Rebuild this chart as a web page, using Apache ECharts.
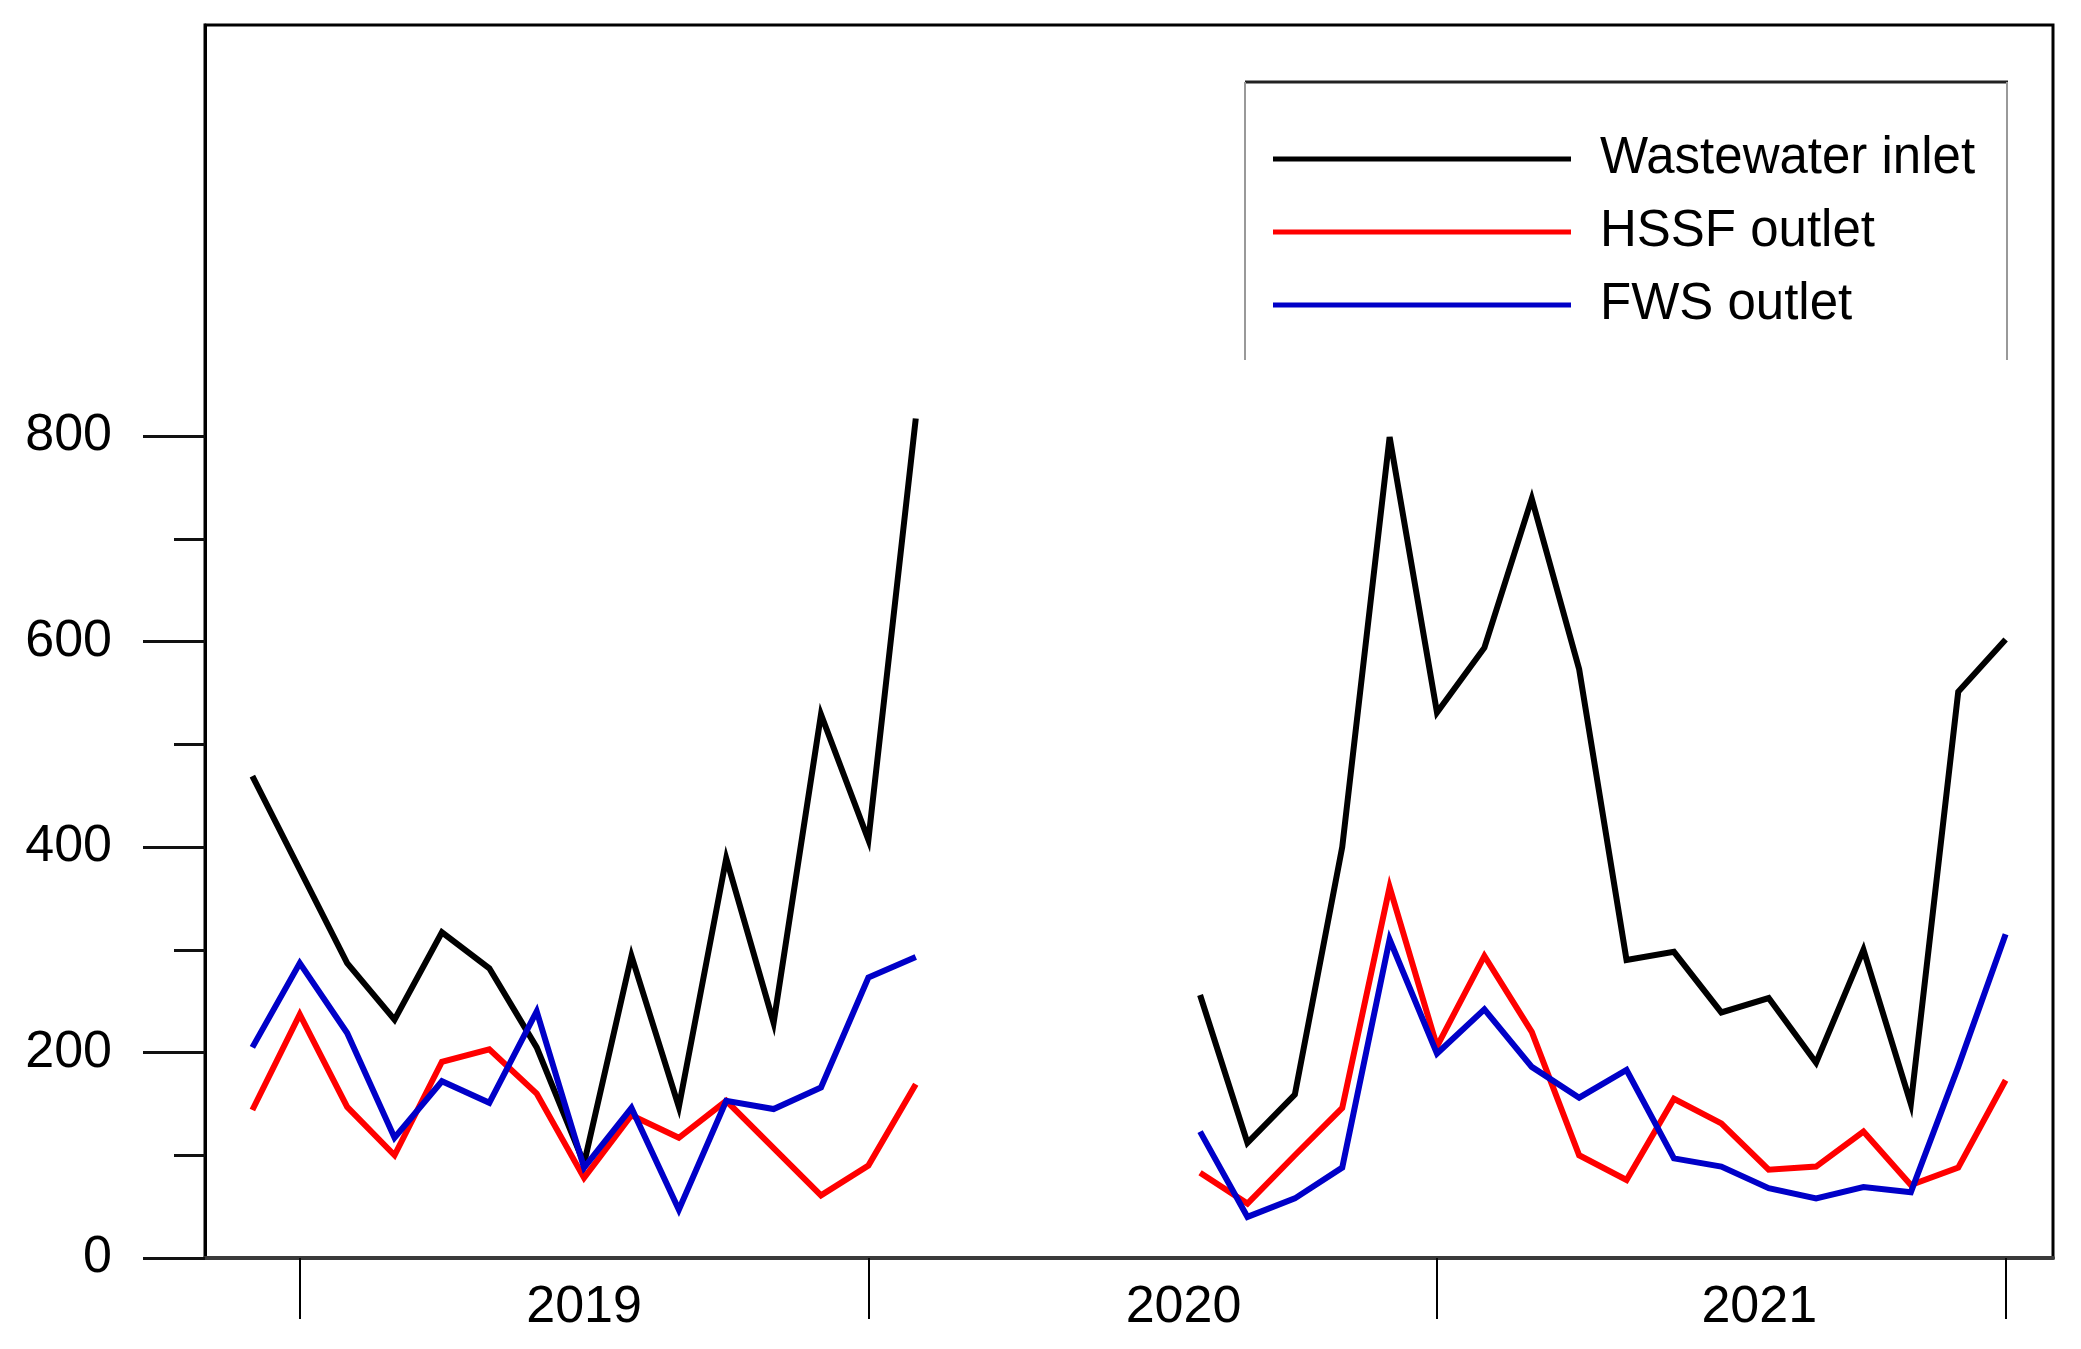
<!DOCTYPE html>
<html><head><meta charset="utf-8">
<script src="https://cdn.jsdelivr.net/npm/echarts@6/dist/echarts.min.js"></script>
<style>html,body{margin:0;padding:0;background:#fff}#c{width:2081px;height:1349px}</style>
</head><body><div id="c"></div>
<script>
// Monthly samples (index positions on the x axis)
const months = ['2018-12','2019-01','2019-02','2019-03','2019-04','2019-05','2019-06','2019-07','2019-08','2019-09','2019-10','2019-11','2019-12',
  '2020-01','2020-02','2020-03','2020-04','2020-05','2020-06','2020-07','2020-08','2020-09','2020-10','2020-11','2020-12',
  '2021-01','2021-02','2021-03','2021-04','2021-05','2021-06','2021-07','2021-08','2021-09','2021-10','2021-11','2021-12','2022-01'];
const seriesNames = ['Wastewater inlet', 'HSSF outlet', 'FWS outlet'];
const inlet = [469, 378, 287, 232, 317, 282, 205, 92, 294, 147, 389, 229, 529, 407, 817,
  null, null, null, null, null,
  256, 112, 159, 400, 799, 531, 594, 739, 573, 290, 298, 239, 253, 190, 300, 150, 551, 602];
const hssf = [144, 237, 147, 100, 191, 203, 160, 78, 139, 117, 153, 107, 61, 90, 169,
  null, null, null, null, null,
  83, 53, 100, 146, 361, 206, 294, 220, 100, 76, 155, 131, 86, 89, 123, 71, 88, 173];
const fws = [205, 287, 219, 117, 172, 151, 240, 88, 146, 47, 153, 145, 166, 273, 293,
  null, null, null, null, null,
  123, 40, 58, 88, 310, 199, 242, 186, 156, 183, 97, 89, 68, 58, 69, 64, 186, 315];
const yMajorTicks = [0, 200, 400, 600, 800];
const yMinorTicks = [100, 300, 500, 700];
const yearLabels = ['2019', '2020', '2021'];
const yearLabelPos = [7, 19.65, 31.8];

const yearTicks = months.map((m, i) => m.endsWith('-01') ? i : null).filter(v => v !== null);
const toData = arr => months.map((m, i) => [i, arr[i] == null ? '-' : arr[i]]);

const FONT = "'Liberation Sans', Arial, sans-serif";
const chart = echarts.init(document.getElementById('c'), null, {renderer: 'canvas'});
const lineSeries = (name, arr, color) => ({
  name, type: 'line', data: toData(arr), symbol: 'none', showSymbol: false,
  connectNulls: false, animation: false,
  lineStyle: {color, width: 6, join: 'miter', miterLimit: 6},
  itemStyle: {color}
});

chart.setOption({
  animation: false,
  backgroundColor: '#fff',
  grid: {left: 205, right: 28, top: 25, bottom: 91, show: true, borderColor: '#000', borderWidth: 3,
    backgroundColor: 'transparent', containLabel: false, outerBoundsMode: 'none'},
  legend: {
    orient: 'vertical', left: 1273, top: 133, padding: 0,
    icon: 'rect', itemWidth: 298, itemHeight: 5, itemGap: 21,
    data: seriesNames,
    textStyle: {fontFamily: FONT, fontSize: 51, color: '#000', lineHeight: 52, padding: [0, 0, 0, 24]},
    selectedMode: false
  },
  xAxis: {
    type: 'value', min: -1, max: 38,
    axisLine: {show: true, onZero: false, lineStyle: {color: '#3a3a3a', width: 4}},
    axisTick: {show: true, customValues: yearTicks, length: 61, lineStyle: {color: '#000', width: 2}},
    axisLabel: {show: true, customValues: yearLabelPos, margin: 24, fontSize: 52, fontFamily: FONT, color: '#000',
      formatter: v => { const i = yearLabelPos.findIndex(p => Math.abs(p - v) < 0.01); return i >= 0 ? yearLabels[i] : ''; }},
    splitLine: {show: false}
  },
  yAxis: [{
    type: 'value', min: 0, max: 1200, position: 'left',
    axisLine: {show: true, onZero: false, lineStyle: {color: '#000', width: 3}},
    axisTick: {show: true, customValues: yMajorTicks, length: 62, lineStyle: {color: '#111', width: 3}},
    axisLabel: {show: true, customValues: yMajorTicks, margin: 93, fontSize: 52, fontFamily: FONT, color: '#000'},
    splitLine: {show: false}
  }, {
    type: 'value', min: 0, max: 1200, position: 'left', offset: 0,
    axisLine: {show: false, onZero: false},
    axisTick: {show: true, customValues: yMinorTicks, length: 31, lineStyle: {color: '#111', width: 3}},
    axisLabel: {show: false},
    splitLine: {show: false}
  }],
  graphic: [
    {type: 'line', shape: {x1: 1245, y1: 82, x2: 2008, y2: 82}, style: {stroke: '#222', lineWidth: 3}, z: 10},
    {type: 'line', shape: {x1: 1245, y1: 82, x2: 1245, y2: 360}, style: {stroke: '#999', lineWidth: 2}, z: 10},
    {type: 'line', shape: {x1: 2007, y1: 82, x2: 2007, y2: 360}, style: {stroke: '#999', lineWidth: 2}, z: 10}
  ],
  series: [
    lineSeries(seriesNames[0], inlet, '#000000'),
    lineSeries(seriesNames[1], hssf, '#ff0000'),
    lineSeries(seriesNames[2], fws, '#0000c8')
  ]
});
</script></body></html>
